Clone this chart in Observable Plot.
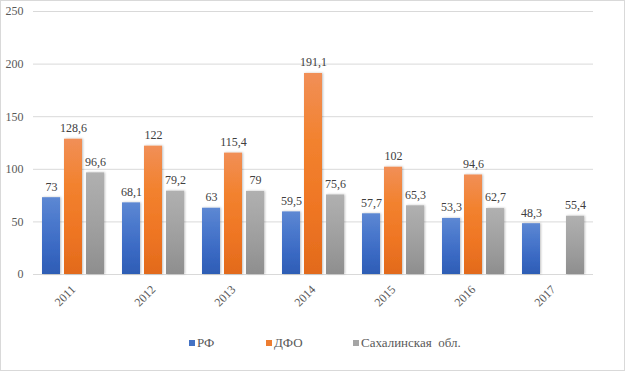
<!DOCTYPE html>
<html>
<head>
<meta charset="utf-8">
<script src="https://cdn.jsdelivr.net/npm/d3@7"></script>
<script src="https://cdn.jsdelivr.net/npm/@observablehq/plot@0.6"></script>
<style>
  html, body { margin: 0; padding: 0; background: #fff; }
  #wrap { position: relative; width: 625px; height: 371px; overflow: hidden; background: #fff; font-family: "Liberation Serif", "DejaVu Serif", serif; }
  #border { position: absolute; left: 0; top: 0; width: 625px; height: 371px; box-sizing: border-box; border: 1px solid #d9d9d9; pointer-events: none; }
  .lg { position: absolute; top: 335px; font-size: 13px; color: #595959; white-space: pre; line-height: 16px; }
  .sw { display: inline-block; width: 6px; height: 6px; margin-right: 2px; vertical-align: 1px; }
  #chart svg, #chart svg text { font-family: "Liberation Serif", "DejaVu Serif", serif !important; }
</style>
</head>
<body>
<div id="wrap">
  <div id="chart"></div>
  <div class="lg" style="left:189px"><span class="sw" style="background:#4472c4"></span>РФ</div>
  <div class="lg" style="left:266px"><span class="sw" style="background:#ed7d31"></span>ДФО</div>
  <div class="lg" style="left:353px"><span class="sw" style="background:#a5a5a5"></span>Сахалинская  обл.</div>
  <div id="border"></div>
</div>
<script>
const years = ["2011", "2012", "2013", "2014", "2015", "2016", "2017"];
const seriesNames = ["РФ", "ДФО", "Сахалинская обл."];
const rf = [73, 68.1, 63, 59.5, 57.7, 53.3, 48.3];
const dfo = [128.6, 122, 115.4, 191.1, 102, 94.6, null];
const sakh = [96.6, 79.2, 79, 75.6, 65.3, 62.7, 55.4];
const yTicks = [0, 50, 100, 150, 200, 250];

const seriesValues = [rf, dfo, sakh];
const gradIds = ["gRF", "gDFO", "gSakh"];
const rows = [];
years.forEach((yr, i) => {
  seriesNames.forEach((s, k) => {
    const v = seriesValues[k][i];
    if (v != null) rows.push({year: yr, series: s, value: v, grad: `url(#${gradIds[k]})`});
  });
});
const fmt = v => String(v).replace(".", ",");

const svg = Plot.plot({
  width: 625,
  height: 325,
  marginLeft: 30,
  marginRight: 30,
  marginTop: 11,
  marginBottom: 51,
  style: {fontSize: "12px", color: "#595959", background: "transparent"},
  fx: {domain: years, padding: 0, tickRotate: -45, tickSize: 0, tickPadding: 13, label: null},
  x: {domain: seriesNames, paddingInner: 0.19, paddingOuter: 0.4, axis: null},
  y: {domain: [0, 250], ticks: yTicks, tickSize: 0, tickPadding: 10, label: null},
  marks: [
    Plot.ruleY(yTicks, {stroke: "#d9d9d9", strokeWidth: 1}),
    Plot.barY(rows, {fx: "year", x: "series", y: "value", fill: "grad", inset: 0}),
    Plot.text(rows, {fx: "year", x: "series", y: "value", text: d => fmt(d.value), dy: -11, fill: "#404040", fontSize: 12})
  ]
});

const defs = d3.select(svg).insert("defs", ":first-child");
const f = defs.append("filter").attr("id", "shadow").attr("x", "-20%").attr("y", "-5%").attr("width", "150%").attr("height", "115%");
f.append("feDropShadow").attr("dx", 1).attr("dy", 0).attr("stdDeviation", 1).attr("flood-color", "#000").attr("flood-opacity", 0.25);
const gradSpecs = {
  gRF: ["#5d88d3", "#4a78cc", "#3a69c3", "#2e5db5"],
  gDFO: ["#f18f57", "#f2822f", "#ef7624", "#e26a1c"],
  gSakh: ["#b0b0b0", "#a6a6a6", "#9b9b9b", "#8e8e8e"]
};
for (const [id, cols] of Object.entries(gradSpecs)) {
  const g = defs.append("linearGradient").attr("id", id).attr("x1", 0).attr("y1", 0).attr("x2", 0).attr("y2", 1);
  cols.forEach((c, i) => g.append("stop").attr("offset", i / (cols.length - 1)).attr("stop-color", c));
}
d3.select(svg).selectAll("g[aria-label='bar'] rect").attr("filter", "url(#shadow)");

document.getElementById("chart").appendChild(svg);
</script>
</body>
</html>
